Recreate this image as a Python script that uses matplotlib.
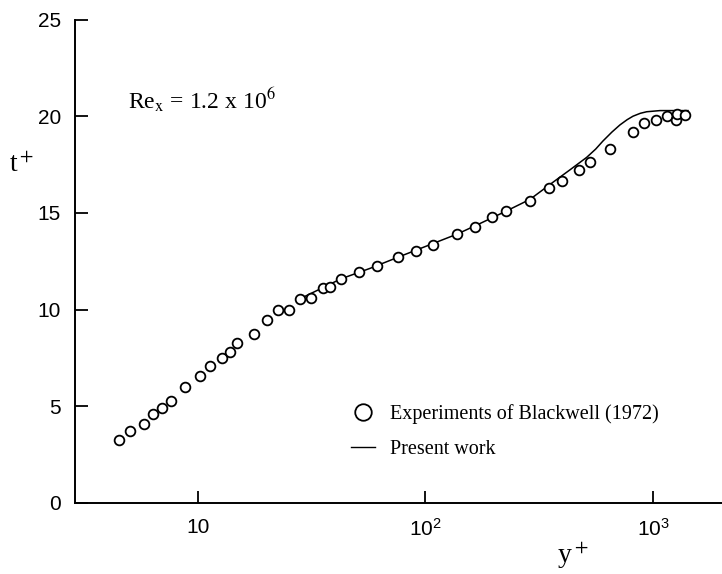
import matplotlib
matplotlib.use('Agg')
import matplotlib.pyplot as plt
from matplotlib.lines import Line2D

# Blackwell (1972) experiments
yplus_exp = [4.51, 5.02, 5.77, 6.36, 6.97, 7.59, 8.77, 10.2, 11.3, 12.7, 13.8, 14.8,
             17.7, 20.2, 22.5, 25.0, 28.1, 31.5, 35.6, 38.0, 42.5, 50.9, 61.0, 75.5,
             90.6, 108, 138, 165, 196, 226, 287, 350, 397, 471, 527, 647, 819, 910,
             1031, 1152, 1258, 1271, 1378]
tplus_exp = [3.26, 3.71, 4.09, 4.60, 4.93, 5.28, 6.02, 6.57, 7.07, 7.52, 7.83, 8.29,
             8.76, 9.45, 9.97, 9.97, 10.55, 10.62, 11.11, 11.19, 11.59, 11.93, 12.26, 12.73,
             13.05, 13.33, 13.90, 14.28, 14.80, 15.09, 15.64, 16.31, 16.66, 17.24, 17.64, 18.31,
             19.18, 19.64, 19.80, 20.00, 19.81, 20.09, 20.07]

# present work (model curve)
yplus_model = [27.2, 42.5, 57.0, 77.3, 137.5, 173.6, 226, 288, 363, 432, 511, 560, 603,
               660, 716, 770, 817, 880, 938, 1074, 1425]
tplus_model = [10.48, 11.59, 12.13, 12.75, 13.90, 14.45, 15.09, 15.70, 16.58, 17.23, 17.87, 18.30, 18.72,
               19.18, 19.55, 19.82, 20.00, 20.15, 20.23, 20.29, 20.29]

xticks = [10, 100, 1000]
xtick_labels = ['10', '$10^2$', '$10^3$']
yticks = [0, 5, 10, 15, 20, 25]

plt.rcParams['font.family'] = ['Liberation Sans', 'DejaVu Sans']
plt.rcParams['mathtext.fontset'] = 'custom'
plt.rcParams['mathtext.rm'] = 'Liberation Sans'
plt.rcParams['mathtext.it'] = 'Liberation Sans'
plt.rcParams['mathtext.bf'] = 'Liberation Sans'

W, H = 722, 574
fig = plt.figure(figsize=(W / 100, H / 100), dpi=100)
ax = fig.add_axes([75 / W, 71 / H, 647 / W, 483.5 / H])

ax.plot(yplus_model, tplus_model, color='black', lw=1.1, zorder=2)
ax.plot(yplus_exp, tplus_exp, 'o', ms=7, mfc='white', mec='black', mew=1.3,
        ls='none', zorder=3)

ax.set_xscale('log')
ax.set_xlim(2.88, 2011)
ax.set_ylim(0, 25)
ax.set_xticks(xticks)
ax.set_xticklabels(xtick_labels)
ax.set_yticks(yticks)
ax.minorticks_off()

for s in ['top', 'right']:
    ax.spines[s].set_visible(False)
for s in ['left', 'bottom']:
    ax.spines[s].set_linewidth(1.4)

ax.tick_params(axis='both', direction='in', length=9, width=1.3, labelsize=15)
ax.tick_params(axis='y', pad=10)
ax.tick_params(axis='x', pad=11)

serif = ['Liberation Serif', 'DejaVu Serif']
ax.text((128 - 75) / 647, 1 - (100 - 19.5) / 483.5, r'Re$_\mathrm{x}$ = 1.2 x 10$^6$',
        transform=ax.transAxes, family=serif, math_fontfamily='stix',
        fontsize=17, va='center', ha='left')

fig.text(22 / W, 1 - 165 / H, r't$^+$', family=serif, math_fontfamily='stix',
         fontsize=20, ha='center', va='center')
fig.text(573 / W, 1 - 556 / H, r'y$^+$', family=serif, math_fontfamily='stix',
         fontsize=20, ha='center', va='center')

handles = [Line2D([], [], marker='o', ls='none', ms=7, mfc='white', mec='black', mew=1.3),
           Line2D([], [], color='black', lw=1.0)]
leg = ax.legend(handles, ['Experiments of Blackwell (1972)', 'Present work'],
                loc='upper left', bbox_to_anchor=(351 / W, 1 - 404 / H),
                bbox_transform=fig.transFigure, frameon=False, markerscale=1.7,
                handlelength=1.2, handletextpad=0.75, labelspacing=0.8,
                borderpad=0, borderaxespad=0, prop={'family': serif, 'size': 14.5})

fig.savefig('out.png', dpi=100)
